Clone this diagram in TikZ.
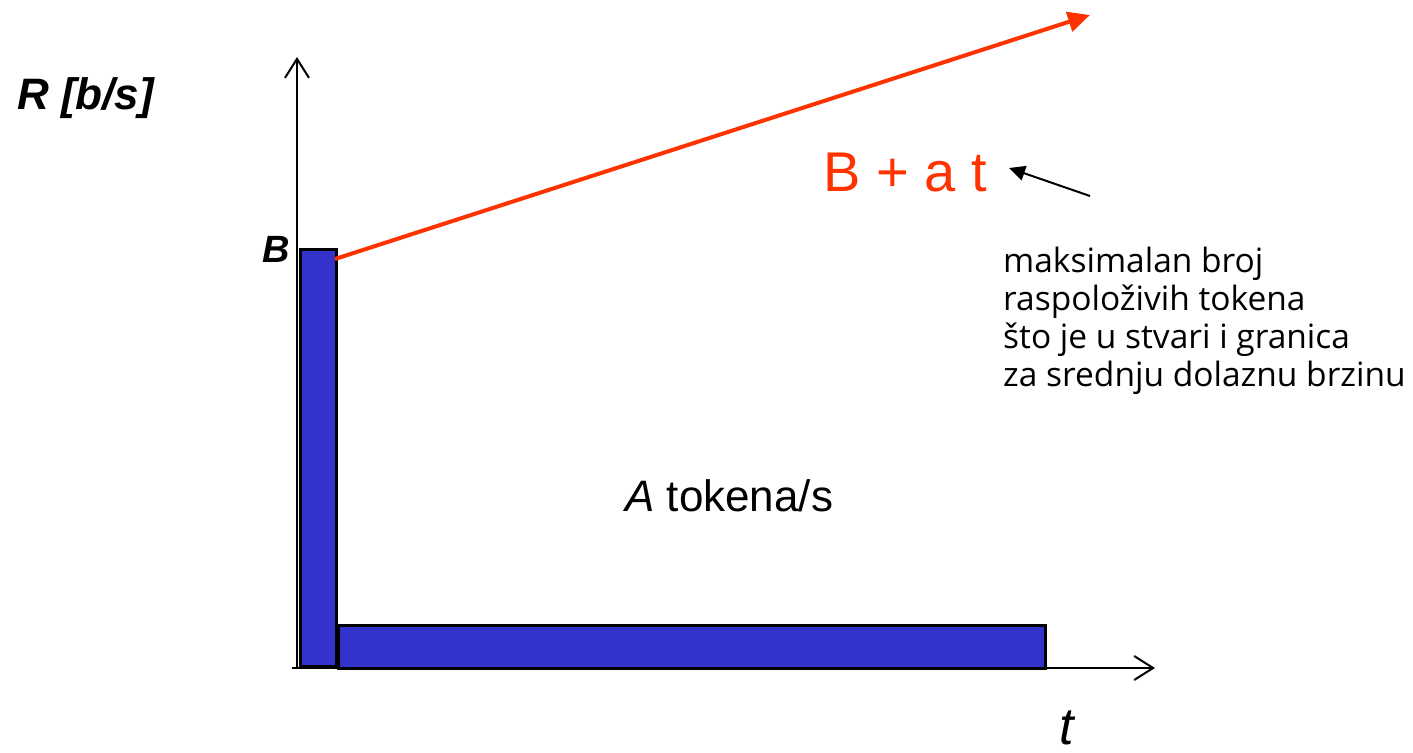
\documentclass[tikz,border=0pt]{standalone}
\usepackage{fontspec}
\setmainfont{Liberation Sans}
\newfontfamily\comicfont{Open Sans}
\usetikzlibrary{arrows.meta}
\definecolor{barblue}{HTML}{3333CC}
\definecolor{linered}{HTML}{FF3300}
\begin{document}
\begin{tikzpicture}[x=1pt,y=-1pt,
  axisline/.style={line width=2pt, -{Straight Barb[length=19pt,width=24pt,line width=2pt]}},
  barbox/.style={draw=black, line width=3pt, fill=barblue, inner sep=0pt, outer sep=0pt, anchor=north west},
  redline/.style={line width=4pt, draw=linered, -{Triangle[length=22pt,width=20pt]}},
  notearrow/.style={line width=2pt, -{Triangle[length=16pt,width=15pt]}},
  lbl/.style={inner sep=0pt, anchor=base west}
]
\useasboundingbox (0,0) rectangle (1413,752);
% axes
\coordinate (orig) at (297,668);
\coordinate (xstart) at (292,668);
\coordinate (ytip) at (297,57);
\coordinate (xtip) at (1155,668);
\draw[axisline] (orig) -- (ytip);
\draw[axisline] (xstart) -- (xtip);
% bars
\node[barbox, minimum width=707pt, minimum height=43pt] (hbar) at (338,625.5) {};
\node[barbox, minimum width=36pt, minimum height=417pt] (vbar) at (300.5,249.5) {};
% red line
\coordinate (redstart) at (335,259);
\coordinate (redtip) at (1090,15);
\draw[redline] (redstart) -- (redtip);
% labels
\node[lbl, font=\fontsize{44}{50}\selectfont\bfseries\itshape] (ylabel) at (17,109) {R [b/s]};
\node[inner sep=0pt, anchor=base east, font=\fontsize{38}{44}\selectfont\bfseries\itshape] (blabel) at (290,262) {B};
\node[lbl, font=\fontsize{52}{58}\selectfont\itshape] (tlabel) at (1059,744) {t};
\node[anchor=base west, inner sep=0pt, text=linered, font=\fontsize{56}{64}\selectfont] (bat) at (823,191) {B + a t};
\node[lbl, font=\fontsize{44}{50}\selectfont] (alabel) at (625,511) {\textit{A} tokena/s};
\node[anchor=north west, inner sep=0pt, align=left, font=\comicfont\fontsize{33.5}{38}\selectfont] (note) at (1003,247)
  {maksimalan broj\\raspoloživih tokena\\što je u stvari i granica\\za srednju dolaznu brzinu};
\coordinate (notetail) at (1090,196);
\coordinate (notetip) at (1009,168);
\draw[notearrow] (notetail) -- (notetip);
\end{tikzpicture}
\end{document}
